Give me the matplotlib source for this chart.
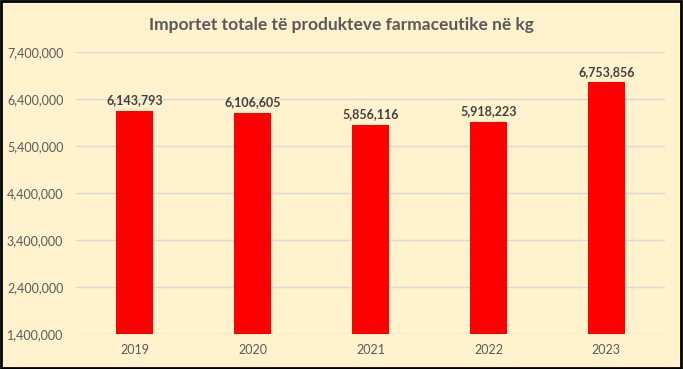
import matplotlib.pyplot as plt
from matplotlib.patches import Rectangle
from matplotlib.ticker import FuncFormatter

years = ["2019", "2020", "2021", "2022", "2023"]
imports_kg = [6143793, 6106605, 5856116, 5918223, 6753856]
y_ticks = [1400000, 2400000, 3400000, 4400000, 5400000, 6400000, 7400000]

plt.rcParams["font.family"] = ["Lato", "DejaVu Sans"]

bg = "#FFF2CC"
fig = plt.figure(figsize=(6.83, 3.69), dpi=100, facecolor=bg)
ax = fig.add_axes([0.111, 0.095, 0.863, 0.764], facecolor=bg)

x = range(len(years))
ax.bar(x, imports_kg, width=0.31, color="#FF0000", zorder=3)
for xi, v in zip(x, imports_kg):
    ax.text(xi, v + 100000, f"{v:,}", ha="center", va="bottom",
            fontsize=9, fontweight="bold", color="#404040")

ax.set_ylim(1400000, 7400000)
ax.set_xlim(-0.5, 4.5)
ax.set_yticks(y_ticks)
ax.yaxis.set_major_formatter(FuncFormatter(lambda v, p: f"{int(v):,}"))
ax.set_xticks(list(x))
ax.set_xticklabels(years)
ax.grid(axis="y", color="#D9D9D9", linewidth=1, zorder=0)
for s in ax.spines.values():
    s.set_visible(False)
ax.tick_params(length=0, colors="#595959", labelsize=9)
ax.tick_params(axis="y", pad=9)
ax.tick_params(axis="x", pad=7)

fig.text(0.5, 0.932, "Importet totale të produkteve farmaceutike në kg",
         ha="center", va="center", fontsize=12.5, fontweight="bold", color="#595959")

fig.patches.append(Rectangle((0.002, 0.003), 0.995, 0.993, transform=fig.transFigure,
                             fill=False, edgecolor="#000000", linewidth=2))

fig.savefig("out.png", dpi=100, facecolor=bg)
